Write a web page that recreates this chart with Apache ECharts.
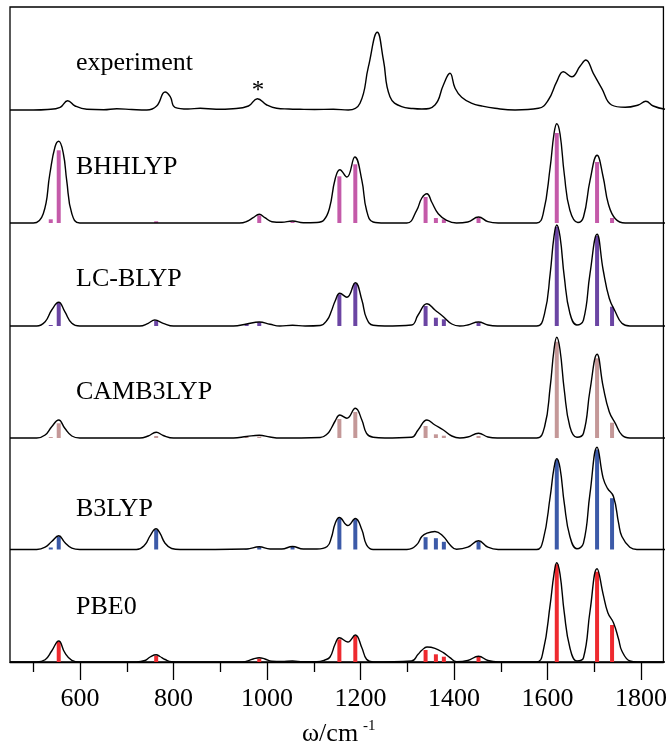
<!DOCTYPE html>
<html>
<head>
<meta charset="utf-8">
<script src="https://cdn.jsdelivr.net/npm/echarts@6/dist/echarts.min.js"></script>
<style>
  html, body { margin: 0; padding: 0; background: #fff; }
  #chart { width: 670px; height: 747px; }
</style>
</head>
<body>
<div id="chart"></div>
<script>
// --- datos (intensidad en unidades arbitrarias) ---
const MAJOR_TICKS = [600, 800, 1000, 1200, 1400, 1600, 1800];
const MINOR_TICKS = [500, 700, 900, 1100, 1300, 1500, 1700];

const PANELS = ['experiment', 'BHHLYP', 'LC-BLYP', 'CAMB3LYP', 'B3LYP', 'PBE0'];

// posiciones de las barras (cm-1), comunes a todos los métodos
const STICK_POS = [537, 554, 762, 955, 982, 1053, 1153, 1187, 1337, 1359, 1376, 1450, 1617, 1703, 1735];
const STICK_BHHLYP = [3.7, 72.7, 1.7, 0, 7.7, 1.3, 46.7, 58.7, 26, 5, 3.7, 5.3, 90, 61, 5];
const STICK_LCBLYP = [1, 23.3, 5, 2, 3.7, 1, 31.7, 42.7, 20, 8.3, 6.7, 3.3, 99.3, 90, 19.3];
const STICK_CAMB3LYP = [1, 14.7, 2, 1, 1.3, 0, 19, 26, 12, 3.7, 2.3, 2, 96.3, 79.7, 15.3];
const STICK_B3LYP = [2, 13, 19.7, 0.5, 2.3, 2.7, 31.3, 30.3, 12.3, 11.3, 7.7, 8, 89.7, 100.3, 51.3];
const STICK_PBE0 = [0, 20.3, 6.3, 0, 3.3, 0, 22.7, 26, 12, 7.7, 5.3, 5, 97.7, 90.3, 37];

// espectros ensanchados [cm-1, intensidad]
const CURVE_EXP = [[450,0],[500,0],[530,0.5],[557,2.7],[573,9.3],[589,4],[614,0.7],[650,0.3],[678,1.3],[710,0.5],
  [742,0],[763,4],[781,18],[792,13.3],[802,2.7],[830,1],[856,1.7],[890,0.8],[926,1.3],[959,4],[978,11.3],[998,5],
  [1019,1.7],[1045,1],[1069,0.7],[1100,0.5],[1140,0.7],[1172,0],[1197,6.7],[1215,43.3],[1234,77.7],[1247,50],
  [1261,13.3],[1286,3.3],[1310,1.5],[1329,1],[1357,5],[1375,25],[1389,36.7],[1400,21.7],[1414,12.7],[1436,6.7],
  [1457,4],[1485,1.7],[1528,0],[1578,1.7],[1599,10],[1617,28.3],[1631,38.3],[1649,33.3],[1667,44],[1679,50],
  [1695,36.7],[1713,21.7],[1734,5],[1763,2.7],[1791,5],[1807,8.7],[1823,4],[1848,0.7]];

const CURVE_BHHLYP = [[450,0],[500,0],[521,9.3],[535,49],[546,76],[554,81.7],[564,69],[571,42.7],[582,9.3],[599,0],
  [940,0],[955,1.5],[969,5.3],[982,8.7],[994,5.3],[1009,1.3],[1030,0.7],[1053,2],[1076,0.3],[1105,0.5],[1120,3],
  [1132,15],[1144,44],[1154,53.3],[1169,46],[1186,66],[1201,42.7],[1211,12.7],[1225,1],[1250,0],[1297,0],
  [1318,12.7],[1329,25],[1340,29.3],[1350,21],[1364,9.3],[1382,2.7],[1403,0],[1427,1],[1450,6],[1470,1.3],
  [1492,0],[1574,0],[1588,9.3],[1603,56],[1611,89],[1617,99.3],[1624,89],[1633,49],[1645,12.7],[1662,0.5],
  [1674,6],[1688,42.7],[1703,67.7],[1716,46],[1727,19.3],[1742,4.3],[1763,0],[1848,0]];

const CURVE_LCBLYP = [[450,0],[507,0],[525,4.3],[539,16],[554,23.7],[567,14.3],[582,2.7],[599,0],[727,0],[745,2.7],
  [759,6],[777,2.7],[799,0],[927,0],[955,2],[982,4],[1005,1.7],[1026,0],[1053,0.8],[1080,0],[1112,0.5],[1127,6],
  [1136,15],[1144,25],[1154,32.7],[1169,28.7],[1187,43.3],[1201,26],[1211,7.7],[1225,0.7],[1250,0],[1307,1],
  [1321,11],[1340,22.3],[1357,16],[1375,9.3],[1393,2],[1410,0],[1427,1],[1450,4],[1470,1],[1490,0],[1574,0],
  [1591,12.7],[1603,52.7],[1611,89.3],[1617,101],[1624,89.3],[1633,49.3],[1645,12.7],[1660,1],[1674,6],
  [1688,52.7],[1703,91.7],[1716,56],[1729,27.7],[1742,14.3],[1756,2.7],[1773,0],[1848,0]];

const CURVE_CAMB3LYP = [[450,0],[507,0],[525,3],[539,11.3],[554,18],[567,9.7],[582,2],[599,0],[727,0],[745,2],
  [762,5.7],[777,2.5],[799,0],[927,0],[955,1.5],[982,2.7],[1005,1],[1026,0],[1112,0.5],[1127,4],[1136,10],
  [1144,17],[1154,23],[1169,19.7],[1187,29.7],[1201,18],[1211,4.7],[1225,0.7],[1250,0],[1307,0.7],[1321,8],
  [1340,18],[1357,13],[1375,8],[1393,2],[1410,0],[1427,1],[1450,4.7],[1470,1],[1490,0],[1574,0],[1591,11.3],
  [1603,51.3],[1611,88],[1617,100.7],[1624,88],[1633,48],[1645,11.3],[1660,0.7],[1674,4.7],[1688,48],
  [1703,83.7],[1716,51.3],[1729,26.3],[1742,14.7],[1756,3],[1773,0],[1848,0]];

const CURVE_B3LYP = [[450,0],[507,0],[525,2.3],[539,8],[554,13.7],[567,7],[582,1.3],[599,0],[720,0],[738,4.7],
  [749,13.7],[762,20.7],[770,16.3],[781,6.3],[795,1],[813,0],[955,0.5],[982,2.7],[1005,0.5],[1030,0.5],[1053,3],
  [1076,0.5],[1105,0.5],[1127,3],[1136,12],[1144,26],[1153,32],[1171,24],[1187,31],[1201,19.7],[1211,4.7],
  [1225,0],[1297,0],[1318,4.7],[1329,13],[1340,16.3],[1357,18],[1375,13],[1389,4.7],[1403,0.3],[1427,2.3],
  [1450,8.7],[1470,2.3],[1492,0],[1574,0],[1588,9.7],[1603,53],[1611,81.3],[1617,90.7],[1624,81.3],[1633,46.3],
  [1645,13],[1660,0.7],[1674,6.3],[1688,56.3],[1703,102.3],[1716,71.3],[1725,61.3],[1738,53],[1749,26.3],
  [1756,13],[1773,2.3],[1788,0],[1848,0]];

const CURVE_PBE0 = [[450,0],[507,0],[525,2.3],[539,11],[554,21],[567,9.3],[582,1.7],[599,0],[720,0],[738,1.5],
  [749,5],[762,7.3],[770,5.5],[781,2.5],[795,0.3],[813,0],[945,0],[969,3],[982,4.3],[994,3],[1009,0.7],
  [1030,0.5],[1053,1],[1076,0.3],[1105,0.3],[1122,2],[1133,5],[1144,18],[1153,24.3],[1171,20],[1187,27],
  [1201,14.3],[1211,2.7],[1225,0],[1307,1],[1321,7.7],[1329,11.7],[1340,15],[1357,13.7],[1375,9.3],[1389,4.3],
  [1403,0.3],[1427,1.5],[1450,5.7],[1470,1.5],[1492,0],[1574,0],[1588,11],[1603,57.7],[1611,87.7],[1617,99.3],
  [1624,87.7],[1633,49.3],[1645,14.3],[1660,1],[1674,4.3],[1688,51],[1703,93.3],[1716,67.7],[1726,49.3],
  [1738,39.3],[1749,22.7],[1756,11],[1773,1],[1790,0],[1848,0]];

// --- estilo y maquetación ---
const FUENTE = "'Liberation Serif', 'Times New Roman', serif";
const COLORES = [null, '#c45aa9', '#6b45a3', '#c49898', '#3c5aa8', '#ee2a2f'];
const STICKS = [null, STICK_BHHLYP, STICK_LCBLYP, STICK_CAMB3LYP, STICK_B3LYP, STICK_PBE0];
const CURVES = [CURVE_EXP, CURVE_BHHLYP, CURVE_LCBLYP, CURVE_CAMB3LYP, CURVE_B3LYP, CURVE_PBE0];
const BASES = [110, 223, 326, 438, 549.5, 662];      // línea base de cada panel (px)
const ETIQUETA_Y = [63.5, 167.5, 279.5, 391.7, 509.3, 606.7];
const H = 747, IZQ = 10, DER = 5, XMIN = 450, XMAX = 1848;

const grids = [], xAxes = [], yAxes = [], series = [], graphic = [];

PANELS.forEach(function (nombre, p) {
  grids.push({ left: IZQ, right: DER, bottom: H - BASES[p], height: 100 });
  xAxes.push({ gridIndex: p, type: 'value', min: XMIN, max: XMAX, show: false });
  yAxes.push({ gridIndex: p, type: 'value', min: 0, max: 100, show: false });

  if (STICKS[p]) {
    series.push({
      type: 'bar', xAxisIndex: p, yAxisIndex: p, barWidth: 4, z: 2,
      itemStyle: { color: COLORES[p] }, silent: true,
      data: STICK_POS.map((x, i) => [x, STICKS[p][i]]).filter((d) => d[1] > 0)
    });
  }
  series.push({
    type: 'line', xAxisIndex: p, yAxisIndex: p, data: CURVES[p], smooth: 0.45,
    symbol: 'none', clip: false, z: 3, silent: true,
    lineStyle: { color: '#000', width: 1.4 }
  });
  graphic.push({ type: 'text', x: 76, y: ETIQUETA_Y[p], z: 10,
    style: { text: nombre, fontSize: 26, fontFamily: FUENTE, fill: '#000', align: 'left', verticalAlign: 'middle' } });
});

// marco exterior y eje inferior
const MARCO = PANELS.length;
grids.push({ left: IZQ, right: DER, top: 7, bottom: H - 662, show: true, borderColor: '#000', borderWidth: 1.3 });
xAxes.push({
  gridIndex: MARCO, type: 'value', min: XMIN, max: XMAX, position: 'bottom',
  axisLine: { show: true, lineStyle: { color: '#000', width: 1.3 } },
  axisTick: { show: true, customValues: MAJOR_TICKS, length: 18, lineStyle: { color: '#000', width: 1.3 } },
  axisLabel: { show: true, customValues: MAJOR_TICKS, margin: 24, color: '#000', fontSize: 26, fontFamily: FUENTE,
               formatter: (v) => String(v) },
  splitLine: { show: false }
});
xAxes.push({
  gridIndex: MARCO, type: 'value', min: XMIN, max: XMAX, position: 'bottom',
  axisLine: { show: false },
  axisTick: { show: true, customValues: MINOR_TICKS, length: 10, lineStyle: { color: '#000', width: 1.3 } },
  axisLabel: { show: false }, splitLine: { show: false }
});
yAxes.push({ gridIndex: MARCO, type: 'value', min: 0, max: 1, show: false });

graphic.push(
  { type: 'text', x: 258, y: 91.5, z: 10,
    style: { text: '*', fontSize: 25, fontFamily: FUENTE, fill: '#000', align: 'center', verticalAlign: 'middle' } },
  { type: 'text', x: 302, y: 734.5, z: 10,
    style: { text: 'ω/cm', fontSize: 26, fontFamily: FUENTE, fill: '#000', align: 'left', verticalAlign: 'middle' } },
  { type: 'text', x: 363, y: 726, z: 10,
    style: { text: '-1', fontSize: 15, fontFamily: FUENTE, fill: '#000', align: 'left', verticalAlign: 'middle' } }
);

const chart = echarts.init(document.getElementById('chart'), null, { renderer: 'canvas' });
chart.setOption({
  backgroundColor: '#fff',
  animation: false,
  grid: grids,
  xAxis: xAxes,
  yAxis: yAxes,
  series: series,
  graphic: graphic
});
</script>
</body>
</html>
